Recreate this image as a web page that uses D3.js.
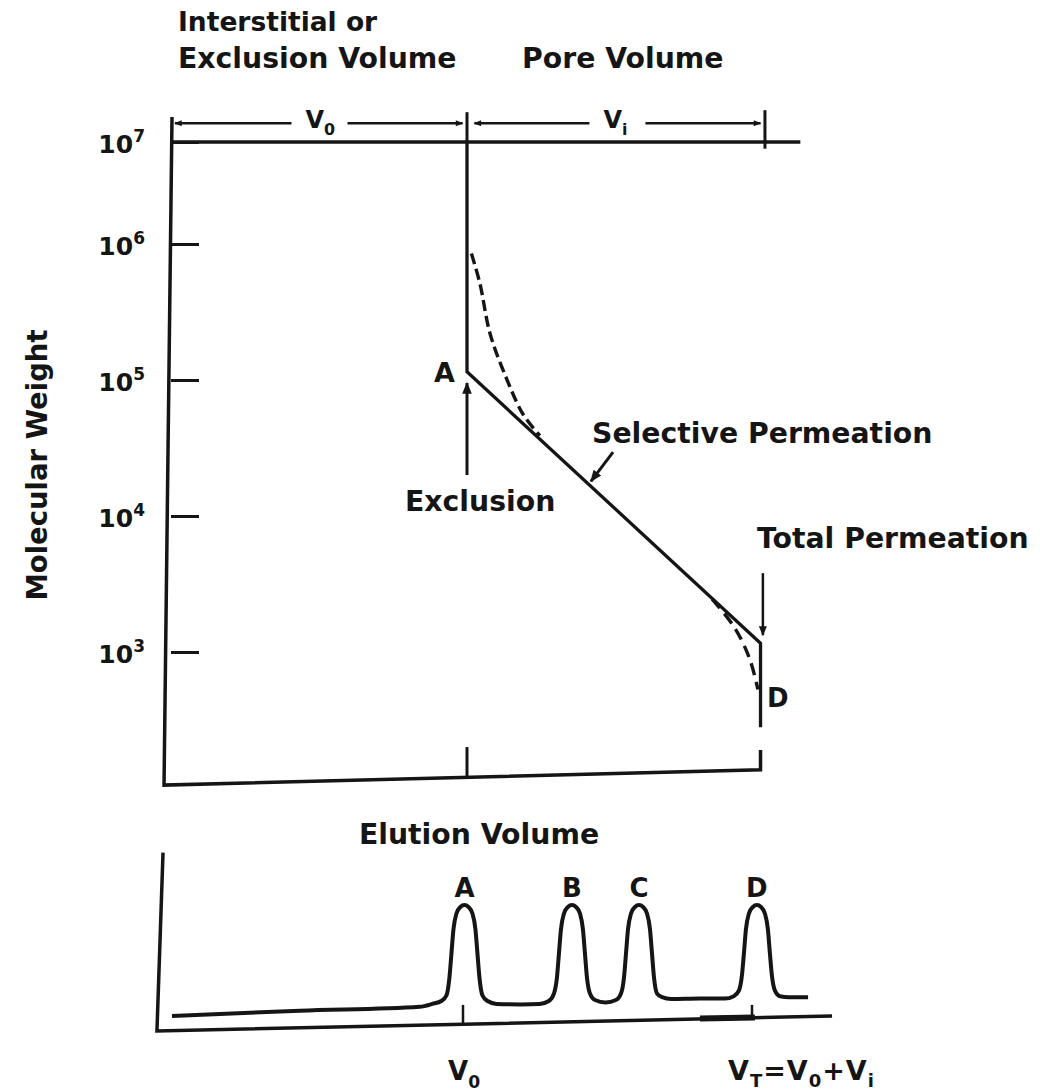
<!DOCTYPE html>
<html>
<head>
<meta charset="utf-8">
<script src="https://cdn.jsdelivr.net/npm/d3@7"></script>
<style>
body { margin: 0; background: #fff; }
text { font-family: "DejaVu Sans", sans-serif; font-weight: bold; fill: #151515; }
</style>
</head>
<body>
<svg id="chart" width="1040" height="1092"></svg>
<script>
// ---- data (elution volume in mL with V0 = 10, Vi = 10; molecular weight in g/mol)
var mwTicks = [1e3, 1e4, 1e5, 1e6, 1e7];
var mwExp = ["3", "4", "5", "6", "7"];

// calibration curve: vertical at V0 down to A, straight selective part, vertical at VT down past D
var calibVe = [10, 10, 19.95, 19.95];
var calibMw = [1e7, 1.15e5, 1.16e3, 2.8e2];
// real (curved) behaviour near exclusion and total permeation limits
var exclDashVe = [10.15, 10.44, 10.78, 11.36, 11.9, 12.47];
var exclDashMw = [8.5e5, 5.1e5, 2.2e5, 1.0e5, 5.6e4, 3.9e4];
var permDashVe = [18.31, 19.08, 19.59, 19.86];
var permDashMw = [2.45e3, 1.5e3, 8.8e2, 5.3e2];

// chromatogram trace (elution volume mL, detector signal)
var traceVe = [-0.07, 4.36, 8.51,
  8.94, 9.25, 9.43, 9.53, 9.6, 9.67, 9.77, 9.91, 10.05, 10.19, 10.33, 10.43, 10.5, 10.57, 10.67, 10.85, 11.16,
  12.0,
  12.66, 12.97, 13.15, 13.25, 13.32, 13.39, 13.49, 13.63, 13.77, 13.91, 14.05, 14.15, 14.22, 14.29, 14.39, 14.57, 14.93,
  15.29, 15.47, 15.57, 15.64, 15.71, 15.81, 15.95, 16.09, 16.23, 16.37, 16.47, 16.54, 16.61, 16.71, 16.89, 17.2,
  18.2,
  19.06, 19.37, 19.55, 19.65, 19.72, 19.79, 19.89, 20.03, 20.17, 20.31, 20.45, 20.55, 20.62, 20.69, 20.79, 20.97, 21.28, 21.94];
var traceSig = [-14.4, -9, -5,
  -2, 1, 7, 25, 50, 75, 91, 98, 100, 98, 91, 75, 50, 25, 7, 1, -2,
  -2.5,
  -2, 1, 9, 25, 50, 75, 91, 98, 100, 98, 91, 75, 50, 25, 9, 2, -0.5,
  2, 9, 25, 50, 75, 91, 98, 100, 98, 91, 75, 50, 25, 9, 5, 3,
  3.5,
  3.5, 6, 12, 27, 50, 75, 91, 98, 100, 98, 91, 75, 50, 27, 12, 6, 5, 5];
var peakNames = ["A", "B", "C", "D"];
var peakVe = [10.05, 13.77, 16.09, 20.17];

// ---- scales
var svg = d3.select("#chart");
var ink = "#151515";

var x = d3.scaleLinear().domain([0, 20]).range([172, 762]);
// top decade is drawn compressed in the original, so use a piecewise log scale
var y = d3.scaleLog().domain([1e3, 1e6, 1e7]).range([652, 244, 142]);

var xB = d3.scaleLinear().domain([0, 20]).range([174, 752]);
var yB = d3.scaleLinear().domain([0, 100]).range([1002, 905]);

// arrow heads
var defs = svg.append("defs");
defs.append("marker").attr("id", "head")
  .attr("viewBox", "0 0 10 10").attr("refX", 9).attr("refY", 5)
  .attr("markerWidth", 4).attr("markerHeight", 4.5).attr("markerUnits", "strokeWidth")
  .attr("orient", "auto-start-reverse")
  .append("path").attr("d", "M0,1 L10,5 L0,9 Z").attr("fill", ink);
defs.append("marker").attr("id", "dimhead")
  .attr("viewBox", "0 0 10 10").attr("refX", 9).attr("refY", 5)
  .attr("markerWidth", 3.5).attr("markerHeight", 3).attr("markerUnits", "strokeWidth")
  .attr("orient", "auto-start-reverse")
  .append("path").attr("d", "M0,1 L10,5 L0,9 Z").attr("fill", ink);

var line = d3.line().x(function(d) { return x(d[0]); }).y(function(d) { return y(d[1]); });

// ---- top chart frame
var gTop = svg.append("g");
gTop.append("path")
  .attr("d", line([[0, 1.76e7], [-0.27, 105], [19.95, 136], [19.95, 190]]))
  .attr("fill", "none").attr("stroke", ink).attr("stroke-width", 3.5);
gTop.append("path")
  .attr("d", line([[0, 1e7], [21.3, 1e7]]))
  .attr("fill", "none").attr("stroke", ink).attr("stroke-width", 3.5);
// V0 tick on bottom axis
gTop.append("path")
  .attr("d", line([[10, 200], [10, 118]]))
  .attr("fill", "none").attr("stroke", ink).attr("stroke-width", 3);

// y axis ticks + labels
var yAxis = d3.axisLeft(y).tickValues(mwTicks).tickSize(-28).tickPadding(26).tickFormat(function() { return "10"; });
var ga = gTop.append("g").attr("transform", "translate(171,0)").call(yAxis);
ga.select(".domain").remove();
ga.attr("font-family", null).attr("font-size", null);
ga.selectAll(".tick line").attr("stroke", ink).attr("stroke-width", 3);
ga.selectAll(".tick text")
  .attr("font-size", 25).style("font-weight", "600").attr("fill", ink)
  .attr("dy", "0.42em")
  .each(function(d, i) {
    d3.select(this).append("tspan").attr("font-size", 17).attr("dy", "-0.65em").text(mwExp[i]);
  });

// dimension line over the plot
var dimMw = 1.53e7;
gTop.append("path").attr("d", line([[0.1, dimMw], [9.85, dimMw]]))
  .attr("fill", "none").attr("stroke", ink).attr("stroke-width", 2.5)
  .attr("marker-start", "url(#dimhead)").attr("marker-end", "url(#dimhead)");
gTop.append("path").attr("d", line([[10.25, dimMw], [19.95, dimMw]]))
  .attr("fill", "none").attr("stroke", ink).attr("stroke-width", 2.5)
  .attr("marker-start", "url(#dimhead)").attr("marker-end", "url(#dimhead)");
gTop.append("path").attr("d", line([[10, 1.96e7], [10, 1e7]]))
  .attr("fill", "none").attr("stroke", ink).attr("stroke-width", 3);
gTop.append("path").attr("d", line([[20.1, 2.05e7], [20.1, 8.6e6]]))
  .attr("fill", "none").attr("stroke", ink).attr("stroke-width", 3);

function subLabel(g, px, py, main, sub, size) {
  var t = g.append("text").attr("x", px).attr("y", py).attr("font-size", size);
  t.append("tspan").text(main);
  t.append("tspan").attr("font-size", size * 0.66).attr("dy", size * 0.3).text(sub);
  return t;
}
var vl = [{ve: 5, s: "0"}, {ve: 15.1, s: "i"}];
vl.forEach(function(d) {
  var cx = x(d.ve);
  gTop.append("rect").attr("x", cx - 28).attr("y", y(dimMw) - 14).attr("width", 56).attr("height", 26).attr("fill", "#fff");
  subLabel(gTop, cx - 14, y(dimMw) + 5, "V", d.s, 24);
});

// calibration curve
gTop.append("path")
  .attr("d", line(d3.zip(calibVe, calibMw)))
  .attr("fill", "none").attr("stroke", ink).attr("stroke-width", 3.3).attr("stroke-linejoin", "miter");
var curvy = d3.line().x(function(d) { return x(d[0]); }).y(function(d) { return y(d[1]); }).curve(d3.curveCatmullRom);
gTop.append("path")
  .attr("d", curvy(d3.zip(exclDashVe, exclDashMw)))
  .attr("fill", "none").attr("stroke", ink).attr("stroke-width", 3.4).attr("stroke-dasharray", "11,5");
gTop.append("path")
  .attr("d", curvy(d3.zip(permDashVe, permDashMw)))
  .attr("fill", "none").attr("stroke", ink).attr("stroke-width", 3.4).attr("stroke-dasharray", "12,7");

// annotation arrows
gTop.append("path").attr("d", line([[10, 2.0e4], [10, 9.5e4]]))
  .attr("fill", "none").attr("stroke", ink).attr("stroke-width", 3).attr("marker-end", "url(#head)");
gTop.append("path").attr("d", line([[20.03, 3.8e3], [20.03, 1.33e3]]))
  .attr("fill", "none").attr("stroke", ink).attr("stroke-width", 2.5).attr("marker-end", "url(#head)");
gTop.append("path").attr("d", line([[14.95, 2.95e4], [14.2, 1.8e4]]))
  .attr("fill", "none").attr("stroke", ink).attr("stroke-width", 3).attr("marker-end", "url(#head)");

// texts
function label(txt, px, py, size, anchor) {
  return svg.append("text").attr("x", px).attr("y", py).attr("font-size", size)
    .attr("text-anchor", anchor || "start").text(txt);
}
label("Interstitial or", 178, 31, 26.5);
label("Exclusion Volume", 178, 68, 28.3);
label("Pore Volume", 522, 68, 28.3);
label("A", 434, 382, 27);
label("Exclusion", 405, 511, 28.3);
label("Selective Permeation", 592, 443, 28.3);
label("Total Permeation", 757, 548, 28.3);
label("D", 767, 707, 26);
label("Elution Volume", 479, 844, 28.3, "middle");
svg.append("text").attr("transform", "translate(47,465) rotate(-90)")
  .attr("text-anchor", "middle").attr("font-size", 27.5).text("Molecular Weight");

// ---- chromatogram
var bot = svg.append("g");
var lineB = d3.line().x(function(d) { return xB(d[0]); }).y(function(d) { return yB(d[1]); });
bot.append("path")
  .attr("d", lineB([[-0.38, 154], [-0.59, -29.9], [22.77, -14.4]]))
  .attr("fill", "none").attr("stroke", ink).attr("stroke-width", 3.5);
bot.append("path")
  .attr("d", lineB([[18.2, -17.1], [20.1, -15.9]]))
  .attr("fill", "none").attr("stroke", ink).attr("stroke-width", 6);
bot.append("path").attr("d", lineB([[10, -3], [10, -22.5]]))
  .attr("fill", "none").attr("stroke", ink).attr("stroke-width", 2.5);
bot.append("path").attr("d", lineB([[20, -3], [20, -16]]))
  .attr("fill", "none").attr("stroke", ink).attr("stroke-width", 2.5);

var traceLine = d3.line().x(function(d) { return xB(d[0]); }).y(function(d) { return yB(d[1]); }).curve(d3.curveMonotoneX);
bot.append("path")
  .attr("d", traceLine(d3.zip(traceVe, traceSig)))
  .attr("fill", "none").attr("stroke", ink).attr("stroke-width", 4).attr("stroke-linejoin", "round");

bot.selectAll(".pk").data(peakNames).enter().append("text")
  .attr("x", function(d, i) { return xB(peakVe[i]); }).attr("y", 897)
  .attr("text-anchor", "middle").attr("font-size", 26).text(function(d) { return d; });

subLabel(bot, xB(10) - 15, 1080, "V", "0", 26);
var vt = bot.append("text").attr("x", 728).attr("y", 1080).attr("font-size", 27).attr("letter-spacing", 1);
vt.append("tspan").text("V");
vt.append("tspan").attr("font-size", 18).attr("dy", 7).text("T");
vt.append("tspan").attr("dy", -7).text("=V");
vt.append("tspan").attr("font-size", 18).attr("dy", 7).text("0");
vt.append("tspan").attr("dy", -7).text("+V");
vt.append("tspan").attr("font-size", 18).attr("dy", 7).text("i");
</script>
</body>
</html>
